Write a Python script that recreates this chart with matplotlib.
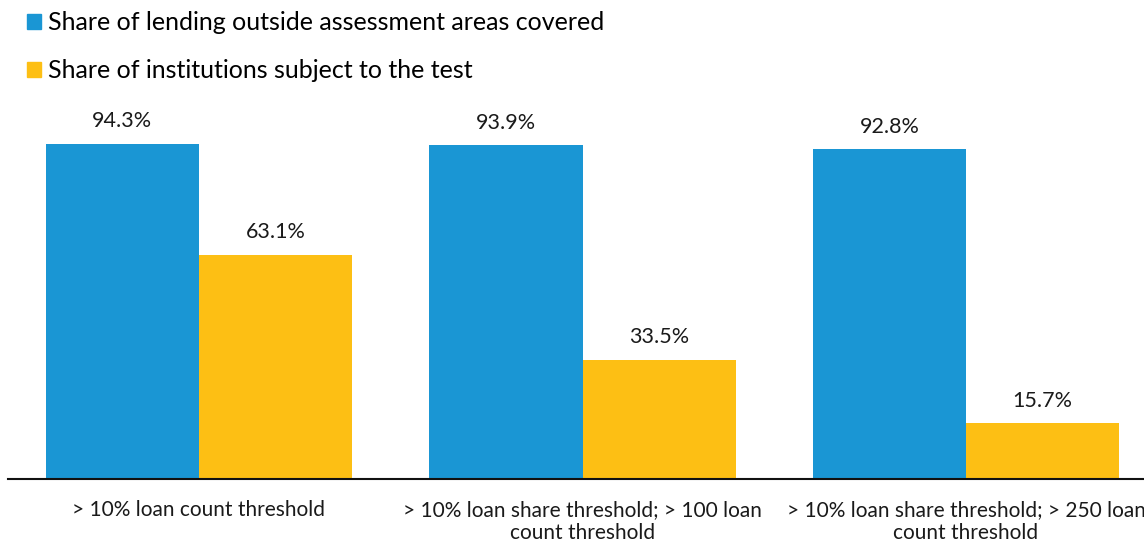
import numpy as np
import matplotlib.pyplot as plt
from matplotlib.patches import Patch

plt.rcParams['font.family'] = ['Lato', 'DejaVu Sans']

categories = [
    "> 10% loan count threshold",
    "> 10% loan share threshold; > 100 loan\ncount threshold",
    "> 10% loan share threshold; > 250 loan\ncount threshold",
]
lending_covered = [94.3, 93.9, 92.8]
institutions_subject = [63.1, 33.5, 15.7]
series_labels = [
    "Share of lending outside assessment areas covered",
    "Share of institutions subject to the test",
]

BLUE = "#1A96D4"
YELLOW = "#FDBF14"

fig = plt.figure(figsize=(11.44, 5.42), dpi=100)
ax = fig.add_axes([8 / 1144, 63 / 542, 1136 / 1144, 355.3 / 542])

x = np.arange(len(categories))
width = 0.4
b1 = ax.bar(x - width / 2, lending_covered, width, color=BLUE)
b2 = ax.bar(x + width / 2, institutions_subject, width, color=YELLOW)

for bars in (b1, b2):
    for bar in bars:
        h = bar.get_height()
        ax.annotate(f"{h:.1f}%", (bar.get_x() + bar.get_width() / 2, h),
                    xytext=(0, 9), textcoords="offset points",
                    ha="center", va="bottom", fontsize=15.5, color="#1a1a1a")

ax.set_xlim(-0.498, 2.464)
ax.set_ylim(0, 100)
ax.set_xticks(x)
ax.set_xticklabels(categories, fontsize=15, color="#1a1a1a", linespacing=1.2)
ax.tick_params(axis="x", length=0, pad=15)
ax.set_yticks([])
for side in ("top", "right", "left"):
    ax.spines[side].set_visible(False)
ax.spines["bottom"].set_linewidth(1.5)
ax.spines["bottom"].set_color("#111111")

handles = [Patch(color=BLUE), Patch(color=YELLOW)]
fig.legend(handles, series_labels, loc="upper left",
           bbox_to_anchor=(17 / 1144, 1 - 1 / 542), frameon=False,
           fontsize=18, handlelength=0.55, handleheight=0.55,
           handletextpad=0.3, labelspacing=1.0, borderaxespad=0)

fig.savefig("out.png", dpi=100)
